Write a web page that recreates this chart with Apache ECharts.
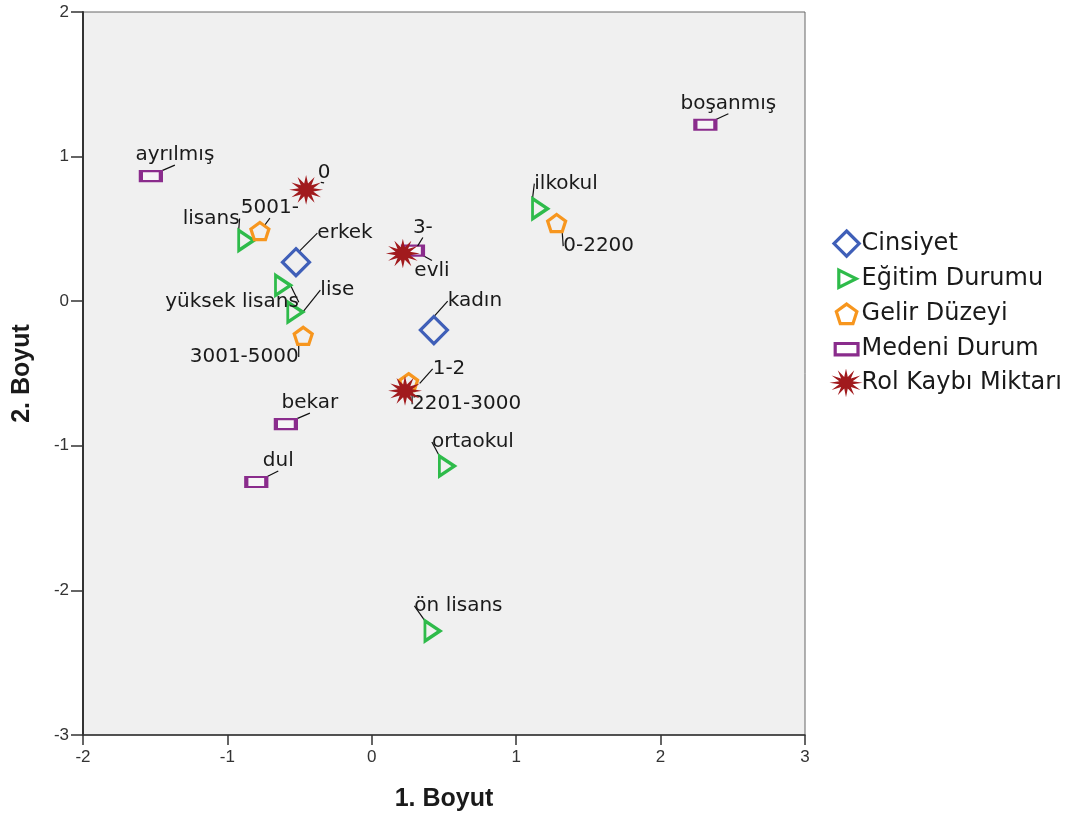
<!DOCTYPE html>
<html><head><meta charset="utf-8">
<script src="https://cdn.jsdelivr.net/npm/echarts@6/dist/echarts.min.js"></script>
<style>html,body{margin:0;padding:0;background:#fff}#c{width:1076px;height:819px}</style>
</head><body><div id="c"></div>
<script>
// ---- data ----
const seriesNames = ['Cinsiyet', 'Eğitim Durumu', 'Gelir Düzeyi', 'Medeni Durum', 'Rol Kaybı Miktarı'];
const cinsiyetLabels = ['erkek', 'kadın'];
const cinsiyetX = [-0.525, 0.43];
const cinsiyetY = [0.27, -0.20];
const egitimLabels = ['lisans', 'yüksek lisans', 'lise', 'ilkokul', 'ortaokul', 'ön lisans'];
const egitimX = [-0.87, -0.615, -0.53, 1.165, 0.52, 0.42];
const egitimY = [0.42, 0.11, -0.075, 0.64, -1.14, -2.28];
const gelirLabels = ['5001-', '3001-5000', '0-2200', '2201-3000'];
const gelirX = [-0.775, -0.475, 1.28, 0.255];
const gelirY = [0.485, -0.24, 0.54, -0.56];
const medeniLabels = ['ayrılmış', 'boşanmış', 'bekar', 'dul', 'evli'];
const medeniX = [-1.53, 2.31, -0.595, -0.80, 0.285];
const medeniY = [0.865, 1.22, -0.85, -1.25, 0.35];
const rolLabels = ['0', '3-', '1-2'];
const rolX = [-0.455, 0.215, 0.23];
const rolY = [0.77, 0.33, -0.62];
const xTicks = [-2, -1, 0, 1, 2, 3];
const yTicks = [-3, -2, -1, 0, 1, 2];

// ---- label placement (pixel offsets of label centre from marker) ----
const labelOffsets = {
  'erkek': [49, -29], 'kadın': [41, -29],
  'lisans': [-35, -22], 'yüksek lisans': [-51, 17], 'lise': [42, -22],
  'ilkokul': [26, -25], 'ortaokul': [26, -24], 'ön lisans': [26, -25],
  '5001-': [10, -23], '3001-5000': [-59, 21], '0-2200': [42, 23], '2201-3000': [58, 22],
  'ayrılmış': [24, -21], 'boşanmış': [23, -21], 'bekar': [24, -21], 'dul': [22, -21], 'evli': [19, 20],
  '0': [18, -17], '3-': [20, -26], '1-2': [44, -22]
};

function polyPts(n, r1, r2, rot, cx, cy, sx) {
  const m = r2 == null ? n : n * 2;
  const pts = [];
  for (let i = 0; i < m; i++) {
    const r = (r2 == null || i % 2 === 0) ? r1 : r2;
    const a = rot + i * Math.PI * 2 / m;
    pts.push([cx + r * (sx || 1) * Math.cos(a), cy + r * Math.sin(a)]);
  }
  return pts;
}
function ptsPath(pts) {
  return pts.map((p, i) => (i ? 'L' : 'M') + p[0].toFixed(2) + ',' + p[1].toFixed(2)).join(' ') + ' Z';
}
const starSym = 'path://' + ptsPath(polyPts(12, 50, 22, -Math.PI / 2, 50, 50, 1.15));
const pentSym = 'path://' + ptsPath(polyPts(5, 50, null, -Math.PI / 2, 50, 50));
const triSym = 'path://M0,0 L15,10.5 L0,21 Z';

// legend icons: drawn inside a padded 120x100 box so relative sizes are kept
const pad = 'M0,0 M120,100 ';
const legendIcons = [
  'path://' + pad + 'M60,8 L102,50 L60,92 L18,50 Z',
  'path://' + pad + 'M34,21 L92,50 L34,79 Z',
  'path://' + pad + ptsPath(polyPts(5, 36, null, -Math.PI / 2, 60, 53)),
  'path://' + pad + 'M22,31 L98,31 L98,69 L22,69 Z',
  'path://' + pad + ptsPath(polyPts(12, 48, 20, -Math.PI / 2, 58, 50, 1.15))
];

const pairs = (xs, ys, names) => xs.map((x, i) => ({ value: [x, ys[i]], name: names[i] }));
const plotBg = '#F0F0F0';
const lblFont = { fontFamily: 'DejaVu Sans', fontSize: 20, color: '#1a1a1a' };
const axisFont = "'Liberation Sans', Arial, sans-serif";

function mkSeries(name, xs, ys, names, symbol, size, item, z, keep) {
  return {
    name: name, type: 'scatter', symbol: symbol, symbolSize: size, symbolKeepAspect: keep !== false, z: z,
    data: pairs(xs, ys, names),
    itemStyle: Object.assign({ opacity: 1 }, item),
    label: Object.assign({ show: true, position: 'inside', formatter: '{b}' }, lblFont),
    labelLine: { show: true, lineStyle: { color: '#111', width: 1.2 }, minTurnAngle: 0 },
    labelLayout: function (p) {
      const o = labelOffsets[names[p.dataIndex]] || [20, -20];
      return { dx: o[0], dy: o[1], hideOverlap: false, moveOverlap: false };
    },
    emphasis: { disabled: true }
  };
}

const colors = ['#3F5FB8', '#2EBB4A', '#F7961E', '#8A2C8C', '#A11A1D'];
const series = [
  mkSeries(seriesNames[0], cinsiyetX, cinsiyetY, cinsiyetLabels, 'diamond', 27,
    { color: plotBg, borderColor: colors[0], borderWidth: 3.2 }, 2),
  mkSeries(seriesNames[1], egitimX, egitimY, egitimLabels, triSym, [15, 20],
    { color: plotBg, borderColor: colors[1], borderWidth: 3.2 }, 3, false),
  mkSeries(seriesNames[2], gelirX, gelirY, gelirLabels, pentSym, 18,
    { color: plotBg, borderColor: colors[2], borderWidth: 3.2 }, 4),
  mkSeries(seriesNames[3], medeniX, medeniY, medeniLabels, 'rect', [20, 10],
    { color: '#F6F6F6', borderColor: colors[3], borderWidth: 3 }, 5),
  mkSeries(seriesNames[4], rolX, rolY, rolLabels, starSym, 34,
    { color: colors[4], borderColor: colors[4], borderWidth: 0 }, 6)
];

const chart = echarts.init(document.getElementById('c'), null, { renderer: 'canvas' });
chart.setOption({
  animation: false,
  backgroundColor: '#ffffff',
  grid: { left: 83, top: 12, right: 271, bottom: 84, show: true, backgroundColor: plotBg, borderColor: '#666', borderWidth: 1 },
  xAxis: {
    type: 'value', min: xTicks[0], max: xTicks[xTicks.length - 1], interval: 1,
    name: '1. Boyut', nameLocation: 'middle', nameGap: 52,
    nameTextStyle: { fontFamily: 'Liberation Sans', fontWeight: 'bold', fontSize: 25, color: '#1a1a1a' },
    axisLine: { onZero: false, lineStyle: { color: '#333', width: 1.5 } },
    axisTick: { show: true, length: 10, lineStyle: { color: '#333', width: 1.5 } },
    axisLabel: { fontFamily: axisFont, fontSize: 17, color: '#333', margin: 14 },
    splitLine: { show: false }
  },
  yAxis: {
    type: 'value', min: yTicks[0], max: yTicks[yTicks.length - 1], interval: 1,
    name: '2. Boyut', nameLocation: 'middle', nameGap: 48, nameRotate: 90,
    nameTextStyle: { fontFamily: 'Liberation Sans', fontWeight: 'bold', fontSize: 25, color: '#1a1a1a' },
    axisLine: { onZero: false, lineStyle: { color: '#333', width: 2 } },
    axisTick: { show: true, length: 12, lineStyle: { color: '#333', width: 1.5 } },
    axisLabel: { fontFamily: axisFont, fontSize: 17, color: '#333', margin: 14 },
    splitLine: { show: false }
  },
  legend: {
    orient: 'vertical', left: 827, top: 227, padding: 0, itemWidth: 36, itemHeight: 30, itemGap: 2,
    symbolKeepAspect: true,
    textStyle: { fontFamily: 'DejaVu Sans', fontSize: 24, color: '#1a1a1a', padding: [0, 0, 0, -8] },
    data: seriesNames.map((n, i) => ({
      name: n, icon: legendIcons[i],
      itemStyle: i === 4 ? { color: colors[4], borderWidth: 0 } : { color: '#ffffff', borderColor: colors[i], borderWidth: 3.2 }
    }))
  },
  series: series
});
</script></body></html>
